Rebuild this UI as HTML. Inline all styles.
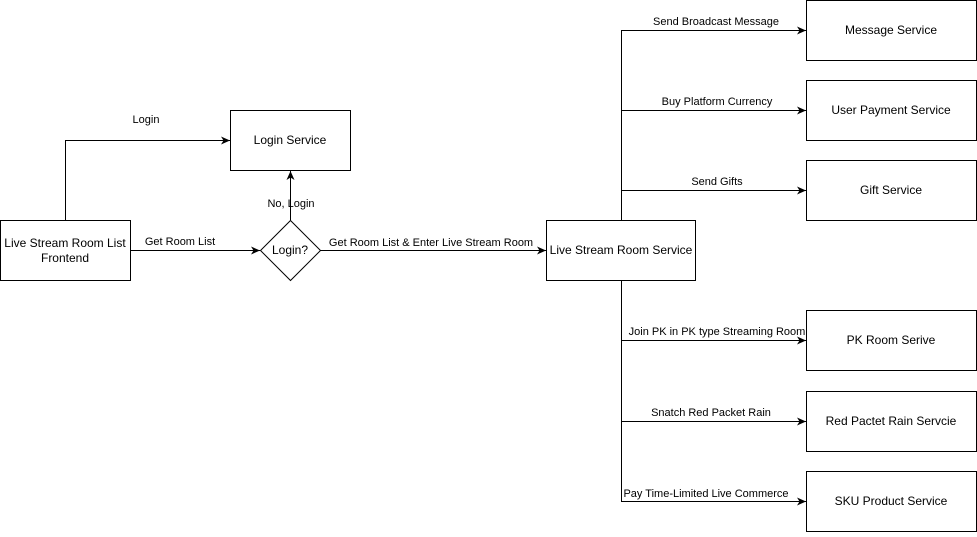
<!DOCTYPE html>
<html><head><style>
html,body{margin:0;padding:0;background:#fff;}
svg text{font-family:"Liberation Sans",Arial,sans-serif;fill:#000;}
</style></head><body>
<svg width="977" height="532" viewBox="0 0 977 532" xmlns="http://www.w3.org/2000/svg">
<defs><marker id="a" markerWidth="10" markerHeight="8" refX="9" refY="4" orient="auto" markerUnits="userSpaceOnUse"><path d="M0,0 L9,4 L0,8 L2.5,4 Z" fill="#000"/></marker></defs>
<g fill="#fff" stroke="#000" stroke-width="1">
<rect x="0.5" y="220.5" width="130" height="60"/>
<rect x="230.5" y="110.5" width="120" height="60"/>
<polygon points="290.5,220.5 320.5,250.5 290.5,280.5 260.5,250.5"/>
<rect x="546.5" y="220.5" width="149" height="60"/>
<rect x="806.5" y="0.5" width="170" height="60"/>
<rect x="806.5" y="80.5" width="170" height="60"/>
<rect x="806.5" y="160.5" width="170" height="60"/>
<rect x="806.5" y="310.5" width="170" height="60"/>
<rect x="806.5" y="391.5" width="170" height="60"/>
<rect x="806.5" y="471.5" width="170" height="60"/>
</g>
<g fill="none" stroke="#000" stroke-width="1" marker-end="url(#a)">
<path d="M65.5,220 V140.5 H230"/>
<path d="M130,250.5 H260"/>
<path d="M290.5,220 V171"/>
<path d="M320,250.5 H546"/>
<path d="M621.5,220 V30.5 H806"/>
<path d="M621.5,110.5 H806"/>
<path d="M621.5,190.5 H806"/>
<path d="M621.5,280 V501.5 H806"/>
<path d="M621.5,340.5 H806"/>
<path d="M621.5,421.5 H806"/>
</g>
<g font-size="12" text-anchor="middle">
<text x="65" y="247">Live Stream Room List</text>
<text x="65" y="262">Frontend</text>
<text x="290" y="144">Login Service</text>
<text x="290" y="254">Login?</text>
<text x="621" y="254">Live Stream Room Service</text>
<text x="891" y="34">Message Service</text>
<text x="891" y="114">User Payment Service</text>
<text x="891" y="194">Gift Service</text>
<text x="891" y="344">PK Room Serive</text>
<text x="891" y="425">Red Pactet Rain Servcie</text>
<text x="891" y="505">SKU Product Service</text>
</g>
<g font-size="11" text-anchor="middle">
<text x="146" y="123">Login</text>
<text x="180" y="245">Get Room List</text>
<text x="291" y="207">No, Login</text>
<text x="431" y="246">Get Room List &amp; Enter Live Stream Room</text>
<text x="716" y="25">Send Broadcast Message</text>
<text x="717" y="105">Buy Platform Currency</text>
<text x="717" y="185">Send Gifts</text>
<text x="717" y="335">Join PK in PK type Streaming Room</text>
<text x="711" y="416">Snatch Red Packet Rain</text>
<text x="706" y="497">Pay Time-Limited Live Commerce</text>
</g>
</svg>
</body></html>
